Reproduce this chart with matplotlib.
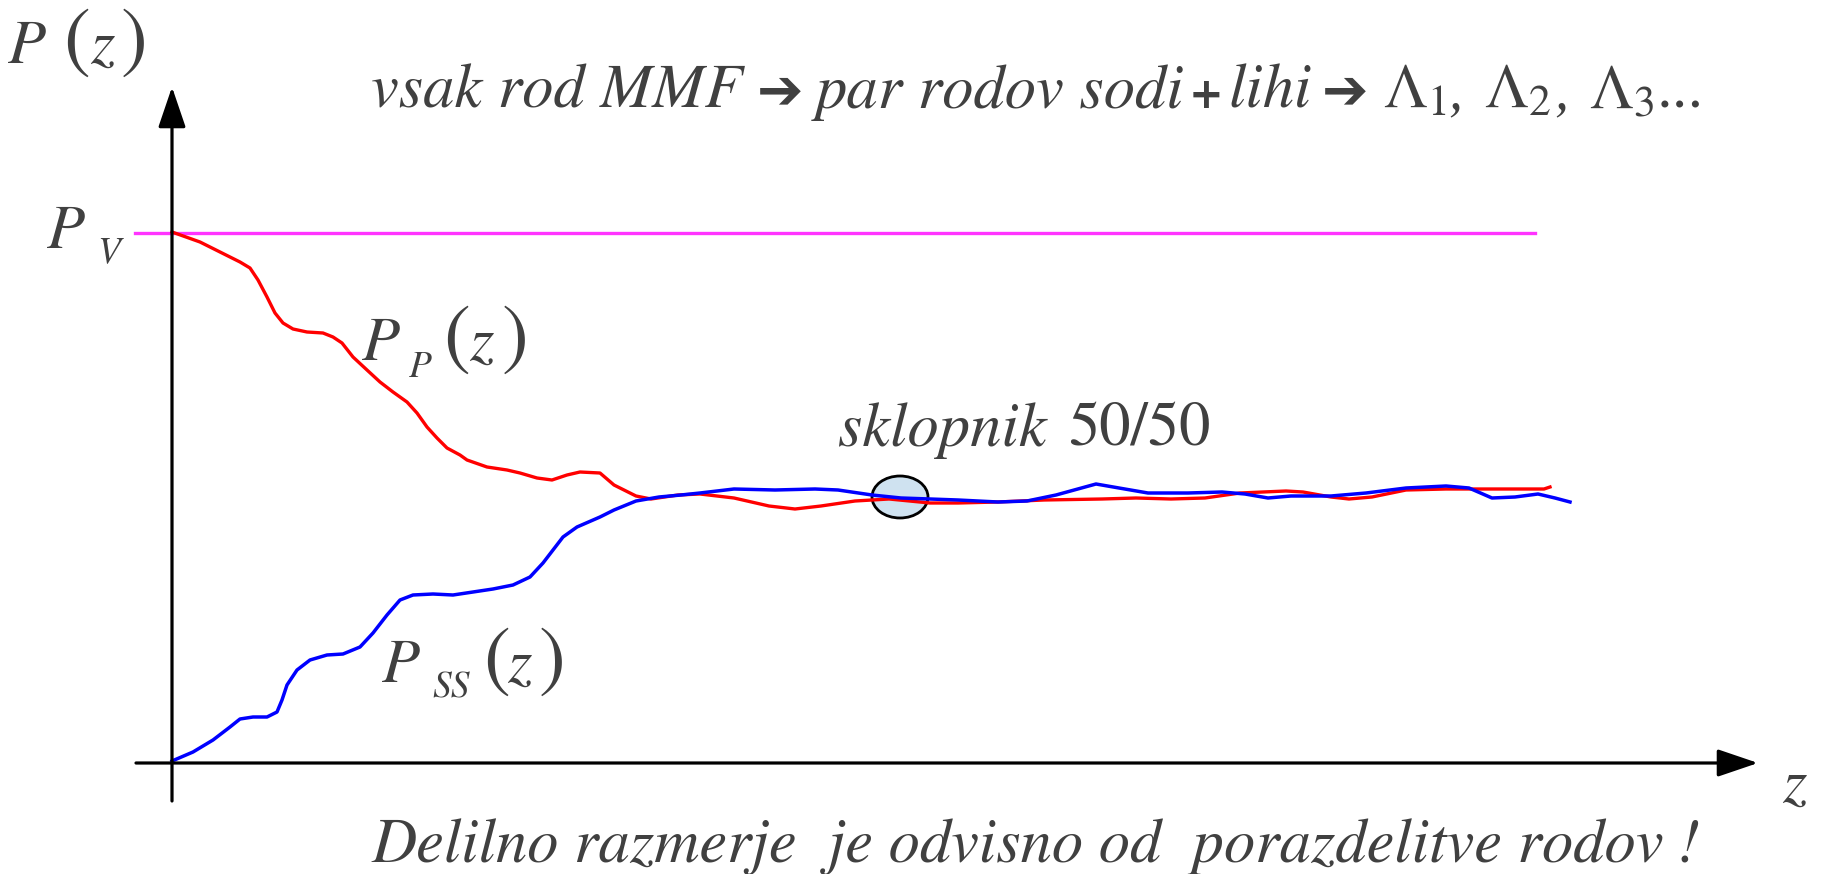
import numpy as np
import matplotlib
matplotlib.use('Agg')
import matplotlib.pyplot as plt
from matplotlib.patches import Ellipse

plt.rcParams['mathtext.fontset'] = 'stix'

# moc vzdolz sklopnika, z in P v enotah slike (P_V = 530)
P_V = 530
z_p = [0, 28, 48, 68, 78, 86, 95, 103, 111, 121, 135, 151, 161, 170, 181, 195, 208, 221, 235, 245,
       255, 265, 275, 288, 295, 315, 335, 348, 365, 380, 395, 408, 428, 442, 464, 479, 506, 528, 562, 597,
       623, 649, 683, 717, 758, 786, 826, 872, 930, 964, 999, 1033, 1068, 1114, 1131, 1159, 1177, 1200, 1234, 1274,
       1303, 1343, 1372, 1378]
p_p = [531, 521, 511, 501, 495, 483, 466, 450, 440, 434, 431, 430, 426, 420, 406, 393, 381, 371, 361, 350,
       336, 325, 315, 308, 303, 296, 293, 290, 285, 283, 288, 291, 290, 278, 267, 264, 268, 269, 265, 257,
       254, 257, 262, 264, 260, 260, 261, 263, 264, 265, 264, 265, 270, 272, 271, 266, 264, 266, 273, 274,
       274, 274, 274, 276]
z_ss = [0, 21, 41, 58, 68, 81, 95, 105, 110, 115, 125, 138, 155, 171, 188, 201, 215, 228, 241, 261,
        281, 301, 321, 341, 358, 371, 381, 391, 405, 428, 442, 464, 487, 509, 528, 545, 562, 603, 643, 666,
        700, 729, 758, 786, 826, 855, 884, 924, 947, 976, 1016, 1050, 1073, 1096, 1119, 1159, 1194, 1234, 1274, 1297,
        1320, 1343, 1366, 1383, 1398]
p_ss = [2, 11, 23, 36, 44, 46, 46, 51, 63, 78, 93, 103, 108, 109, 116, 130, 148, 163, 168, 169,
        168, 171, 174, 178, 186, 200, 213, 226, 236, 246, 253, 262, 266, 268, 270, 272, 274, 273, 274, 273,
        268, 265, 264, 263, 261, 262, 268, 279, 275, 270, 270, 271, 269, 265, 267, 267, 270, 275, 277, 275,
        265, 266, 269, 265, 261]
# sklopnik 50/50
z_sklop, p_sklop = 728, 266

bottom_text = 'Delilno razmerje  je odvisno od  porazdelitve rodov !'

W, H = 1826, 874
GRAY = '#404040'
F = 'STIXGeneral'

fig = plt.figure(figsize=(W / 100, H / 100), dpi=100)
ax = fig.add_axes([0, 0, 1, 1])
ax.set_xlim(-172, W - 172)
ax.set_ylim(763 - H, 763)
ax.axis('off')
renderer = fig.canvas.get_renderer()

# osi
arrow = dict(arrowstyle='-|>,head_length=0.5,head_width=0.17', color='k', lw=2.3,
             mutation_scale=50, shrinkA=0, shrinkB=0)
ax.annotate('', xy=(0, 676), xytext=(0, -38), arrowprops=arrow)
ax.annotate('', xy=(1586, 0), xytext=(-36, 0), arrowprops=arrow)

ax.plot([-37, 1363], [P_V, P_V], color='#ff33ff', lw=2.4)
ax.add_patch(Ellipse((z_sklop, p_sklop), 56, 42, fc='#cfe2f0', ec='k', lw=2, zorder=1))
ax.plot(z_p, p_p, color='#ff0000', lw=2.4, solid_joinstyle='round', zorder=2)
ax.plot(z_ss, p_ss, color='#0000ff', lw=2.5, solid_joinstyle='round', zorder=2)

it = dict(family=F, style='italic', fontsize=45)
rm = dict(family=F, fontsize=45)
par = dict(family=F, fontsize=58)
sub = dict(family=F, style='italic', fontsize=27)


def put(x, y, s, kw):
    # x, y v pikslih slike, y je osnovna crta od zgoraj
    return fig.text(x / W, 1 - y / H, s, color=GRAY, ha='left', va='baseline', **kw)


def row(x, y, parts):
    for s, kw, gap in parts:
        t = put(x, y, s, kw)
        x += t.get_window_extent(renderer).width + gap


# P(z)
put(8, 63, 'P', it); put(63, 63, '(', par); put(90, 63, 'z', it); put(121, 63, ')', par)
# P_V
put(47, 248, 'P', it); put(97, 262, 'V', sub)
# P_P(z)
put(362, 360, 'P', it); put(409, 377, 'P', sub)
put(443, 360, '(', par); put(469, 360, 'z', it); put(502, 360, ')', par)
# P_SS(z)
put(382, 682, 'P', it); put(432, 697, 'SS', sub)
put(483, 682, '(', par); put(507, 682, 'z', it); put(539, 682, ')', par)
# sklopnik
put(838, 446, 'sklopnik', it); put(1068, 446, '50/50', rm)
# z
put(1782, 802, 'z', it)

# naslov
ti = dict(family=F, style='italic', fontsize=45)
tr = dict(family=F, fontsize=45)
ar = dict(family='DejaVu Sans', weight='bold', fontsize=40)
pl = dict(family='DejaVu Sans', weight='bold', fontsize=30)
row(371, 108, [('vsak rod MMF', ti, 14), ('\u2794', ar, 12), ('par rodov sodi', ti, 5),
               ('+', pl, 5), ('lihi', ti, 10), ('\u2794', ar, 14),
               (r'$\Lambda_{1}$', tr, 4), (',', ti, 18), (r'$\Lambda_{2}$', tr, 4), (',', ti, 18),
               (r'$\Lambda_{3}$', tr, 2), ('...', tr, 0)])

put(371, 862, bottom_text, it)

fig.savefig('out.png', dpi=100)
